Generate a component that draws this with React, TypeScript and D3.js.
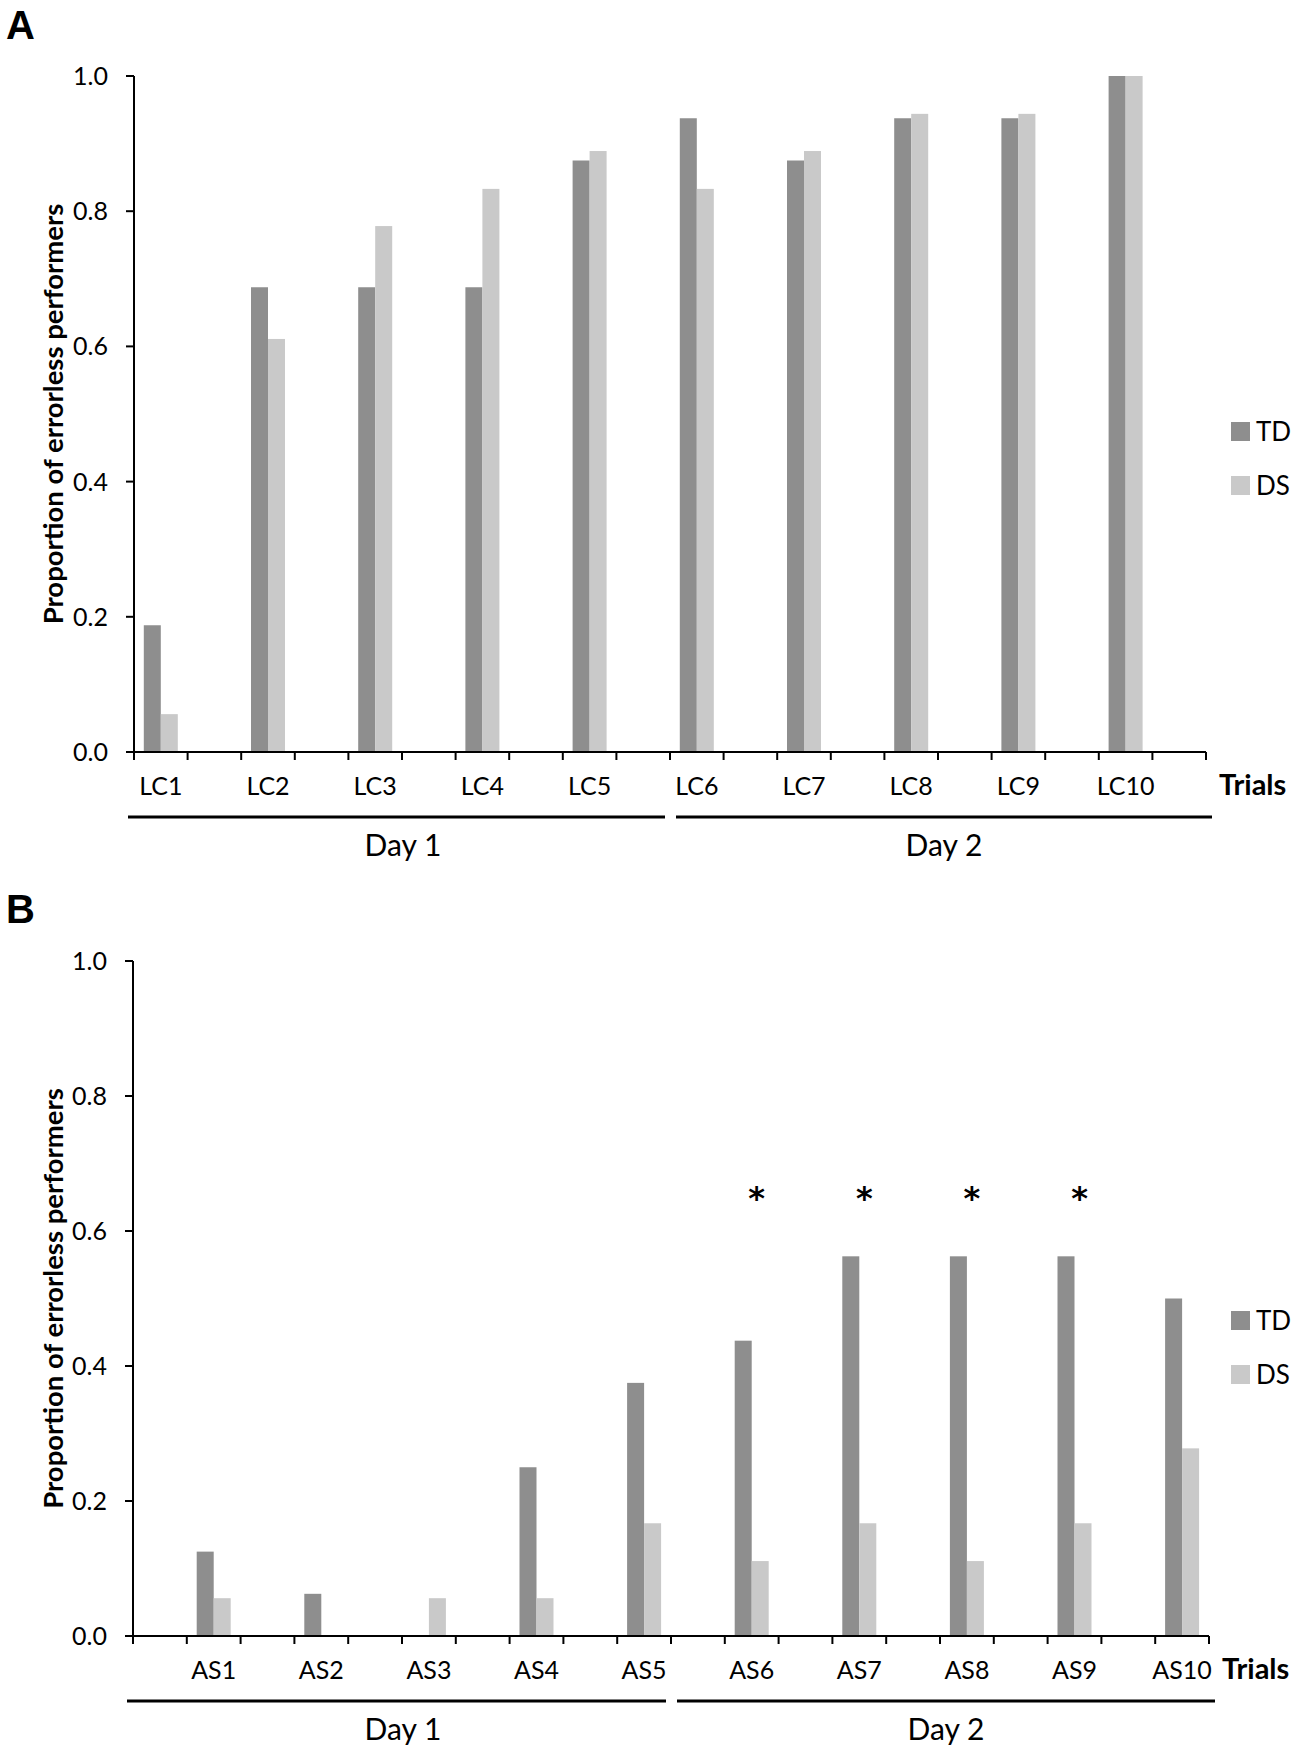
import React from "react";
import * as d3 from "d3";

const seriesNames = ["TD", "DS"];
const seriesColors = ["#8e8e8e", "#c9c9c9"];
const yTickValues = [0, 0.2, 0.4, 0.6, 0.8, 1.0];
const dayLabels = ["Day 1", "Day 2"];
const axisTitle = "Proportion of errorless performers";
const xTitle = "Trials";

const lcCategories = ["LC1", "LC2", "LC3", "LC4", "LC5", "LC6", "LC7", "LC8", "LC9", "LC10"];
const lcTD = [0.1875, 0.6875, 0.6875, 0.6875, 0.875, 0.9375, 0.875, 0.9375, 0.9375, 1.0];
const lcDS = [0.056, 0.611, 0.778, 0.833, 0.889, 0.833, 0.889, 0.944, 0.944, 1.0];

const asCategories = ["AS1", "AS2", "AS3", "AS4", "AS5", "AS6", "AS7", "AS8", "AS9", "AS10"];
const asTD = [0.125, 0.0625, 0, 0.25, 0.375, 0.4375, 0.5625, 0.5625, 0.5625, 0.5];
const asDS = [0.056, 0, 0.056, 0.056, 0.167, 0.111, 0.167, 0.111, 0.167, 0.278];
const asSignificant = [false, false, false, false, false, true, true, true, true, false];

const FONT = "Lato, 'Open Sans', sans-serif";

type PanelProps = {
  letter: string;
  letterY: number;
  yTop: number;
  yBottom: number;
  x0: number;
  x1: number;
  slotOffset: number;
  categories: string[];
  values: number[][];
  significant?: boolean[];
  starY?: number;
  legendTop: number;
};

function Panel(p: PanelProps) {
  const y = d3.scaleLinear().domain([0, 1]).range([p.yBottom, p.yTop]);
  const slot = d3.scaleLinear().domain([0, 20]).range([p.x0, p.x1]);
  const inner = d3.scaleBand().domain(seriesNames).range([-17, 17]).padding(0);
  const catX = (i: number) => slot(2 * i + p.slotOffset);
  const labelBase = p.yBottom + 43;
  const dayLineY = p.yBottom + 65;
  const dayTextY = p.yBottom + 104;
  const daySpans = [
    [slot(0) - 6, slot(10) - 5],
    [slot(10) + 6, slot(20) + 6],
  ];
  const dayTextX = [slot(5) + 1, (daySpans[1][0] + daySpans[1][1]) / 2];
  const boundaries = d3.range(0, 21);
  return (
    <g>
      <text x={6} y={p.letterY} fontFamily="'Liberation Sans', Arial, sans-serif" fontWeight="bold" fontSize={40}>
        {p.letter}
      </text>
      {p.categories.map((c, i) => (
        <g key={c}>
          {seriesNames.map((s, k) => {
            const v = p.values[k][i];
            const bx = catX(i) + (inner(s) as number);
            return (
              <rect
                key={s}
                x={bx}
                y={y(v)}
                width={inner.bandwidth()}
                height={y(0) - y(v)}
                fill={seriesColors[k]}
              />
            );
          })}
        </g>
      ))}
      <line x1={p.x0} x2={p.x0} y1={p.yTop} y2={p.yBottom} stroke="#000" strokeWidth={2} />
      {yTickValues.map((t) => (
        <g key={t}>
          <line x1={p.x0 - 8} x2={p.x0} y1={y(t)} y2={y(t)} stroke="#000" strokeWidth={2} />
          <text
            x={p.x0 - 26}
            y={y(t)}
            dy="0.36em"
            textAnchor="end"
            fontFamily={FONT}
            fontSize={25}
            fill="#000"
          >
            {t.toFixed(1)}
          </text>
        </g>
      ))}
      <text
        transform={`translate(63,${(p.yTop + p.yBottom) / 2}) rotate(-90)`}
        textAnchor="middle"
        fontFamily={FONT}
        fontWeight="bold"
        fontSize={27.5}
      >
        {axisTitle}
      </text>
      <line x1={p.x0 - 8} x2={p.x1} y1={p.yBottom} y2={p.yBottom} stroke="#000" strokeWidth={2} />
      {boundaries.map((b) => (
        <line key={b} x1={slot(b)} x2={slot(b)} y1={p.yBottom} y2={p.yBottom + 8} stroke="#000" strokeWidth={2} />
      ))}
      {p.categories.map((c, i) => (
        <text key={c} x={catX(i)} y={labelBase} textAnchor="middle" fontFamily={FONT} fontSize={25}>
          {c}
        </text>
      ))}
      <text x={p.x1 + 13} y={labelBase} fontFamily={FONT} fontWeight="bold" fontSize={29}>
        {xTitle}
      </text>
      {dayLabels.map((d, k) => (
        <g key={d}>
          <line x1={daySpans[k][0]} x2={daySpans[k][1]} y1={dayLineY} y2={dayLineY} stroke="#000" strokeWidth={3} />
          <text x={dayTextX[k]} y={dayTextY} textAnchor="middle" fontFamily={FONT} fontSize={30}>
            {d}
          </text>
        </g>
      ))}
      {p.significant &&
        p.categories.map((c, i) =>
          p.significant![i] ? (
            <text
              key={c}
              x={catX(i) + 5}
              y={p.starY}
              textAnchor="middle"
              fontFamily="'DejaVu Sans', sans-serif"
              fontWeight="bold"
              fontSize={32}
            >
              *
            </text>
          ) : null
        )}
      {seriesNames.map((s, k) => (
        <g key={s} transform={`translate(1231,${p.legendTop + k * 54})`}>
          <rect x={0} y={0} width={19} height={19} fill={seriesColors[k]} />
          <text x={25} y={9.5} dy="0.36em" fontFamily={FONT} fontSize={26}>
            {s}
          </text>
        </g>
      ))}
    </g>
  );
}

export default function App() {
  return (
    <svg
      width={1306}
      height={1758}
      style={{ position: "absolute", left: 0, top: 0, background: "#fff" }}
    >
      <rect width={1306} height={1758} fill="#fff" />
      <Panel
        letter="A"
        letterY={39}
        yTop={76}
        yBottom={752}
        x0={134}
        x1={1206}
        slotOffset={0.5}
        categories={lcCategories}
        values={[lcTD, lcDS]}
        legendTop={422}
      />
      <Panel
        letter="B"
        letterY={923}
        yTop={961}
        yBottom={1636}
        x0={133}
        x1={1209}
        slotOffset={1.5}
        categories={asCategories}
        values={[asTD, asDS]}
        significant={asSignificant}
        starY={1209}
        legendTop={1311}
      />
    </svg>
  );
}
